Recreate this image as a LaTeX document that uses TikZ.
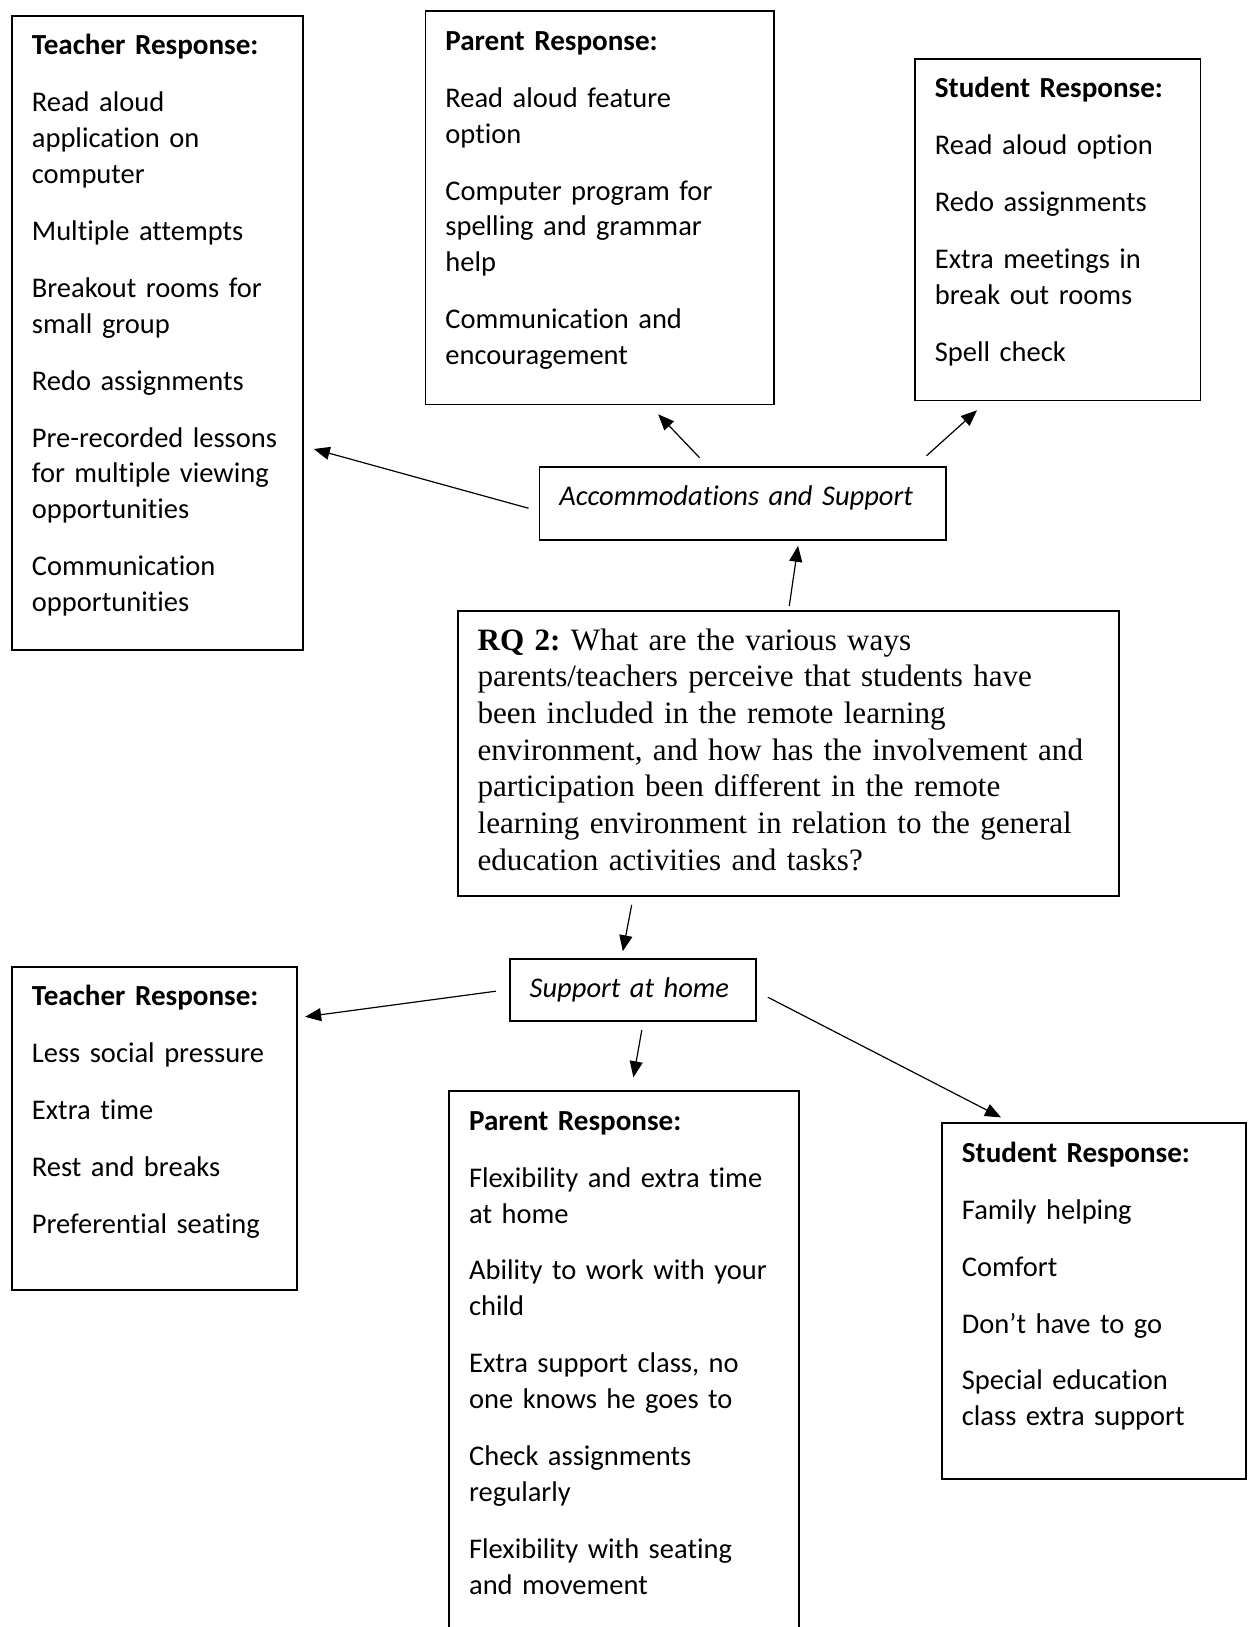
\documentclass[tikz,border=0pt]{standalone}
\usepackage{fontspec}
\setmainfont{Carlito}[Ligatures=NoCommon]
\newfontfamily\timesfont{Liberation Serif}[Ligatures=NoCommon]
\usetikzlibrary{arrows.meta}
\frenchspacing

\newcommand{\respfont}{\fontsize{28.5}{35.9}\selectfont}
\newcommand{\rqfont}{\timesfont\fontsize{31.1}{36.67}\selectfont}
\newcommand{\toppad}{\rule{0pt}{39pt}}
\newcommand{\botpad}[1]{\rule[-#1pt]{0pt}{#1pt}}
\newcommand{\kopf}[1]{{\fontsize{29.1}{35.9}\selectfont\bfseries #1}}

\tikzset{
    resp/.style={draw, line width=1.8pt, anchor=north west, inner xsep=20pt, inner ysep=0pt, align=left, font=\respfont},
    arr/.style={-{Triangle[length=16pt,width=13pt]}, line width=1.2pt}
}

\begin{document}
\begin{tikzpicture}[x=1pt, y=-1pt]
    \useasboundingbox (0,0) rectangle (1248,1627);

    % Antworten oben
    \node[resp, text width=251pt] (t1) at (11,15) {\toppad\kopf{Teacher Response:}\\[21pt]
        Read aloud\\
        application on\\
        computer\\[21pt]
        Multiple attempts\\[21pt]
        Breakout rooms for\\
        small group\\[21pt]
        Redo assignments\\[21pt]
        Pre-recorded lessons\\
        for multiple viewing\\
        opportunities\\[21pt]
        Communication\\
        opportunities\botpad{38}};
    \node[resp, text width=308.5pt] (p1) at (424.5,10.5) {\toppad\kopf{Parent Response:}\\[21pt]
        Read aloud feature\\
        option\\[21pt]
        Computer program for\\
        spelling and grammar\\
        help\\[21pt]
        Communication and\\
        encouragement\botpad{39.7}};
    \node[resp, text width=245.5pt] (s1) at (914,58) {\toppad\kopf{Student Response:}\\[21pt]
        Read aloud option\\[21pt]
        Redo assignments\\[21pt]
        Extra meetings in\\
        break out rooms\\[21pt]
        Spell check\botpad{39}};

    % Kategorie oben
    \node[resp, text width=366.3pt] (acc) at (538.5,465.7) {\toppad\textit{Accommodations and Support}\botpad{34.3}};

    % Forschungsfrage
    \node[resp, text width=621.3pt, font=\rqfont] (rq) at (456.7,610) {\rule{0pt}{39.3pt}\textbf{RQ 2:} What are the various ways\\
        parents/teachers perceive that students have\\
        been included in the remote learning\\
        environment, and how has the involvement and\\
        participation been different in the remote\\
        learning environment in relation to the general\\
        education activities and tasks?\botpad{25.7}};

    % Kategorie unten
    \node[resp, text width=206.2pt] (sup) at (508.8,958.3) {\rule{0pt}{38pt}\textit{Support at home}\botpad{24}};

    % Antworten unten
    \node[resp, text width=245.3pt] (t2) at (11,965.8) {\toppad\kopf{Teacher Response:}\\[21pt]
        Less social pressure\\[21pt]
        Extra time\\[21pt]
        Rest and breaks\\[21pt]
        Preferential seating\botpad{57}};
    \node[resp, text width=309.6pt] (p2) at (448.2,1090.3) {\toppad\kopf{Parent Response:}\\[21pt]
        Flexibility and extra time\\
        at home\\[21pt]
        Ability to work with your\\
        child\\[21pt]
        Extra support class, no\\
        one knows he goes to\\[21pt]
        Check assignments\\
        regularly\\[21pt]
        Flexibility with seating\\
        and movement\botpad{70}};
    \node[resp, text width=264pt] (s2) at (941,1122.4) {\toppad\kopf{Student Response:}\\[21pt]
        Family helping\\[21pt]
        Comfort\\[21pt]
        Don’t have to go\\[21pt]
        Special education\\
        class extra support\botpad{53.4}};

    % Pfeile: Start/Versatz/Ziel/Versatz
    \foreach \von/\va/\nach/\vb in {acc.west/{-10,5}/t1.north east/{10,434},
                                    acc.north/{-43,-8}/p1.south/{58.5,9},
                                    acc.north east/{-20,-10}/s1.south west/{63,9},
                                    rq.north/{1,-4}/acc.south/{55.5,5},
                                    rq.south west/{175,8}/sup.north/{-10,-7},
                                    sup.west/{-13,1}/t2.north east/{7,51},
                                    sup.south/{9,8}/p2.north/{9.5,-13},
                                    sup.east/{11,7}/s2.north west/{60,-5}}
        {
            \draw[arr] ([shift={(\va)}]\von) -- ([shift={(\vb)}]\nach);
        }

\end{tikzpicture}
\end{document}
